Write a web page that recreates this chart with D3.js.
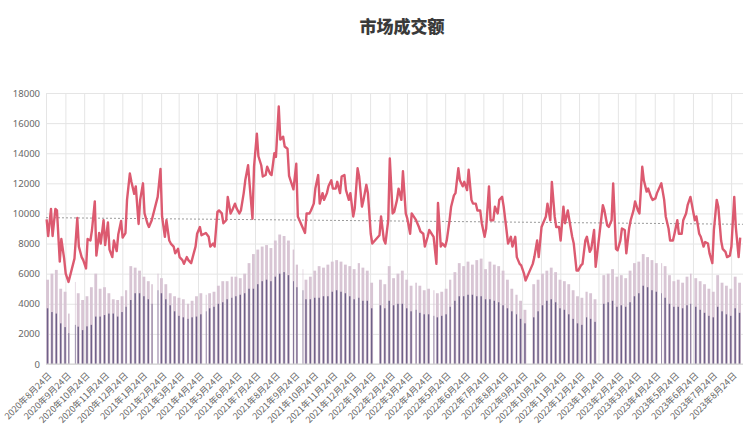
<!DOCTYPE html>
<html>
<head>
<meta charset="utf-8">
<script src="https://cdn.jsdelivr.net/npm/d3@7"></script>
<style>
  body { margin: 0; background: #fff; }
  svg { display: block; }
</style>
</head>
<body>
<svg id="chart" width="750" height="431"></svg>
<script>
// ---------------- data ----------------
const chartTitle = "市场成交额";
const firstWeek = "2020-08-24";   // Monday of week 0
const axisEnd = "2023-09-12";

const yTicks = [0, 2000, 4000, 6000, 8000, 10000, 12000, 14000, 16000, 18000];

const tickDates = [
  "2020-08-24","2020-09-24","2020-10-24","2020-11-24","2020-12-24",
  "2021-01-24","2021-02-24","2021-03-24","2021-04-24","2021-05-24","2021-06-24",
  "2021-07-24","2021-08-24","2021-09-24","2021-10-24","2021-11-24","2021-12-24",
  "2022-01-24","2022-02-24","2022-03-24","2022-04-24","2022-05-24","2022-06-24",
  "2022-07-24","2022-08-24","2022-09-24","2022-10-24","2022-11-24","2022-12-24",
  "2023-01-24","2023-02-24","2023-03-24","2023-04-24","2023-05-24","2023-06-24",
  "2023-07-24","2023-08-24"
];

// weekday market closures
const holidays = [
  "2020-10-01","2020-10-02","2020-10-05","2020-10-06","2020-10-07","2020-10-08",
  "2021-01-01","2021-02-11","2021-02-12","2021-02-15","2021-02-16","2021-02-17",
  "2021-04-05","2021-05-03","2021-05-04","2021-05-05","2021-06-14","2021-09-20","2021-09-21",
  "2021-10-01","2021-10-04","2021-10-05","2021-10-06","2021-10-07",
  "2022-01-03","2022-01-31","2022-02-01","2022-02-02","2022-02-03","2022-02-04",
  "2022-04-04","2022-04-05","2022-05-02","2022-05-03","2022-05-04","2022-06-03","2022-09-12",
  "2022-10-03","2022-10-04","2022-10-05","2022-10-06","2022-10-07",
  "2023-01-02","2023-01-23","2023-01-24","2023-01-25","2023-01-26","2023-01-27",
  "2023-04-05","2023-05-01","2023-05-02","2023-05-03","2023-06-22","2023-06-23"
];

// total turnover line: two readings per week (early / late in the week)
const totalEarly = [
  9600,10300,10300,6800,7000,5450,null,9700,7100,6350,
  8200,10800,8700,9550,9400,7100,7500,9500,8700,12650,
  11300,9300,12000,9350,9550,null,12950,8450,8200,7800,
  7650,6900,7100,6700,7800,9100,null,8450,8000,10100,
  10000,9550,10000,10650,10000,11350,13200,9650,15300,13200,
  12550,12650,14000,17100,15100,14300,null,13300,null,8700,
  10000,10650,12550,11350,11350,12200,11650,11350,12550,10900,
  9800,13000,10450,11900,8650,null,8550,8250,9550,10000,
  10900,10900,10000,8650,null,9100,8650,8450,null,6650,
  7800,7800,9550,11200,13000,11800,11550,10900,10650,10200,
  8450,11800,9550,10000,11100,8900,8450,8450,6650,6000,
  null,6650,8200,9100,9800,9550,9800,9100,10450,10200,
  8450,6200,6550,8200,7450,8900,null,10550,9200,9550,
  7650,8200,8900,9000,10200,10200,13100,11450,11100,11000,
  null,10900,9000,8200,9550,8650,10000,11100,9550,8650,
  7800,8000,6700,10900,8200,7450,7200,11100,7100
];
const totalLate = [
  8500,8500,10200,8300,6000,null,7000,7800,6900,8300,
  8900,7200,8000,7900,7600,8200,8600,8400,10900,12100,
  11800,10900,10000,9100,null,11100,9800,9550,8000,7350,
  7100,6650,6900,7100,8650,8550,8700,7800,7800,10200,
  9350,11100,10200,10350,10200,12200,11900,13100,13800,12450,
  13100,12550,13750,14900,14450,12500,11600,9800,null,10000,
  10200,11650,10650,10900,11800,11650,12100,12450,11550,11350,
  10350,12450,10900,11350,8000,null,9800,8000,13650,10100,
  11650,12800,9650,10000,9550,8800,7800,8900,8450,10700,
  8000,8200,10450,11350,12200,12100,12900,10650,10200,9350,
  9000,9550,10450,10900,10450,8000,7800,7100,6550,5550,
  null,7100,7100,9350,10650,12100,9100,8200,9350,9550,
  8000,6200,6650,8450,7650,6450,null,10200,9100,12000,
  7550,9000,7350,9550,10800,10000,12200,11650,10900,11350,
  12000,9800,8200,8650,8650,9550,10550,null,9800,8450,
  8100,7350,8900,10450,7650,7100,7800,9100,8400
];

// weekly bars (lighter, taller series and darker series)
const barsLight = [
  5600,6000,6250,5000,4800,3350,5450,4700,4250,4500,
  5100,6000,5000,5100,4700,4300,4250,4500,4900,6500,
  6400,6200,5800,5500,5300,6000,5700,5300,4700,4500,
  4400,4300,4000,4200,4500,4700,4600,4700,4800,5200,
  5500,5500,5800,5800,5700,6000,6700,7300,7600,7800,
  7900,7700,8200,8600,8500,8200,7600,6600,6300,5600,
  5800,6200,6500,6400,6600,6800,6900,6800,6600,6500,
  6300,6700,6400,6200,5400,null,5600,5300,6500,5700,
  6000,6200,5600,5200,5400,5200,4900,5000,4900,4700,
  4800,5000,5600,6100,6700,6500,6800,6600,6900,7000,
  6300,6800,6600,6500,6200,5600,5000,4600,4200,3600,
  null,5300,5600,6000,6200,6400,6100,5600,5500,5300,
  4900,4500,4400,4800,4700,4300,null,5900,6000,6300,
  5800,5900,5700,6200,6700,6800,7300,7100,6900,6700,
  6700,6500,5900,5500,5600,5400,5800,6000,5700,5500,
  5300,5000,4800,5900,5400,5200,5000,5800,5400
];
const barsDark = [
  3700,3450,3350,2700,2450,2050,2600,2480,2250,2500,
  2600,3150,3150,3250,3350,3350,3150,3450,3800,4250,
  4700,4700,4500,4300,4000,4900,4700,4300,3900,3500,
  3200,3100,3000,3100,3150,3300,3500,3700,3800,4000,
  4100,4300,4400,4500,4600,4700,5000,5000,5300,5500,
  5600,5500,5800,6000,6100,5900,5500,5100,4900,4300,
  4300,4400,4400,4500,4500,4800,4900,4800,4700,4500,
  4300,4400,4200,4200,3700,null,3900,3700,4200,3900,
  4000,4000,3700,3500,3600,3400,3300,3300,3200,3100,
  3200,3300,3800,4200,4500,4500,4600,4600,4500,4500,
  4300,4300,4200,4100,3900,3700,3500,3300,3000,2700,
  null,3100,3500,3900,4200,4300,4100,3700,3600,3300,
  3000,2700,2600,3100,3000,2800,null,4000,4100,4200,
  3800,3900,3800,4100,4500,4700,5200,5100,4900,4800,
  4700,4400,4000,3800,3800,3700,3900,4000,3800,3600,
  3400,3200,3100,3800,3500,3300,3200,3700,3400
];

// dotted trend line (start / end values)
const trendValues = [9720, 9280];

// ---------------- chart ----------------
const DAY = 864e5;
const parse = s => new Date(s + "T00:00:00Z");
const fmt = d => d.toISOString().slice(0, 10);
const addDays = (d, n) => new Date(d.getTime() + n * DAY);
const holidaySet = new Set(holidays);

const svg = d3.select("#chart");
const plotLeft = 46, plotRight = 743, plotTop = 93, plotBottom = 364;

const x = d3.scaleUtc().domain([parse(firstWeek), parse(axisEnd)]).range([plotLeft, plotRight]);
const y = d3.scaleLinear().domain([0, 18000]).range([plotBottom, plotTop]);

// title
svg.append("text")
  .attr("x", 402).attr("y", 33)
  .attr("text-anchor", "middle")
  .attr("font-family", "'Noto Sans CJK SC', 'Noto Sans', sans-serif")
  .attr("font-size", 17).attr("font-weight", 900)
  .attr("fill", "#3a3a3a")
  .text(chartTitle);

// horizontal grid
const yAxis = d3.axisLeft(y).tickValues(yTicks).tickSize(-(plotRight - plotLeft)).tickPadding(6).tickFormat(d3.format("d"));
const gy = svg.append("g").attr("transform", `translate(${plotLeft},0)`).call(yAxis);
gy.select(".domain").remove();
gy.selectAll(".tick line").attr("stroke", "#e5e5e5").attr("stroke-width", 1);
gy.selectAll(".tick text")
  .attr("fill", "#666").attr("font-size", 9.5)
  .attr("font-family", "'Noto Sans', 'Open Sans', sans-serif");

// vertical grid + labels
const tickObjs = tickDates.map(parse);
const xAxis = d3.axisBottom(x).tickValues(tickObjs).tickSize(-(plotBottom - plotTop)).tickFormat(() => "");
const gx = svg.append("g").attr("transform", `translate(0,${plotBottom})`).call(xAxis);
gx.select(".domain").remove();
gx.selectAll(".tick line").attr("stroke", "#e5e5e5").attr("stroke-width", 1);

svg.append("g").selectAll("text").data(tickObjs).join("text")
  .attr("transform", d => `translate(${x(d) + 4},${plotBottom + 10}) rotate(-45)`)
  .attr("text-anchor", "end")
  .attr("dy", "0.35em")
  .attr("fill", "#666")
  .attr("font-size", 9)
  .attr("font-family", "'Noto Sans CJK SC', 'Noto Sans', sans-serif")
  .text(d => `${d.getUTCFullYear()}年${d.getUTCMonth() + 1}月${d.getUTCDate()}日`);

// weekly bars
const start = parse(firstWeek);
const weeks = barsLight.map((L, w) => {
  const ws = addDays(start, 7 * w);
  const days = [0, 1, 2, 3, 4].filter(k => !holidaySet.has(fmt(addDays(ws, k))));
  return { w, ws, days, L, D: barsDark[w] };
}).filter(d => d.L != null && d.days.length);

const gBars = svg.append("g");
weeks.forEach(d => {
  const x0 = x(addDays(d.ws, d.days[0]));
  const x1 = x(addDays(d.ws, d.days[d.days.length - 1] + 1));
  const wdt = Math.max(0.6, x1 - x0 - 0.3);
  gBars.append("rect")
    .attr("x", x0 + 0.15).attr("width", wdt)
    .attr("y", y(d.L)).attr("height", y(0) - y(d.L))
    .attr("fill", "#d8c5d4");
  const dw = Math.max(0.6, wdt * 0.5);
  gBars.append("rect")
    .attr("x", x0 + 0.15 + (wdt - dw) / 2).attr("width", dw)
    .attr("y", y(d.D)).attr("height", y(0) - y(d.D))
    .attr("fill", "#6e6189");
});

// axis baseline
svg.append("line").attr("x1", plotLeft).attr("x2", plotRight).attr("y1", plotBottom).attr("y2", plotBottom)
  .attr("stroke", "#d0d0d0");

// trend line
svg.append("line")
  .attr("x1", x(parse(firstWeek))).attr("y1", y(trendValues[0]))
  .attr("x2", x(parse(axisEnd))).attr("y2", y(trendValues[1]))
  .attr("stroke", "#9a9a9a").attr("stroke-width", 1).attr("stroke-dasharray", "2,2");

// total line
const pts = [];
totalEarly.forEach((v, w) => {
  const ws = addDays(start, 7 * w);
  if (v != null) pts.push({ d: addDays(ws, 1), v });
  if (totalLate[w] != null) pts.push({ d: addDays(ws, 3.5), v: totalLate[w] });
});
svg.append("path")
  .datum(pts)
  .attr("fill", "none")
  .attr("stroke", "#dc5a70")
  .attr("stroke-width", 2.4)
  .attr("stroke-linejoin", "round")
  .attr("d", d3.line().x(p => x(p.d)).y(p => y(p.v)));
</script>
</body>
</html>
